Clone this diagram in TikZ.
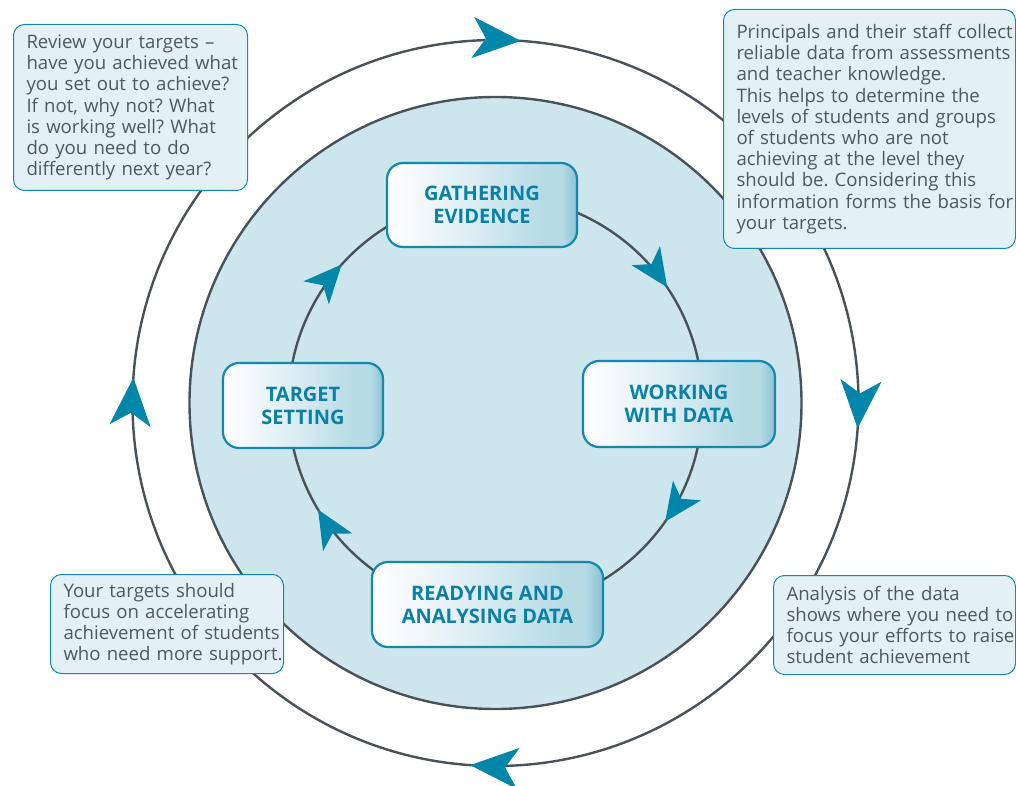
\documentclass[tikz,border=0pt]{standalone}
\usepackage{fontspec}
\setmainfont{Open Sans}
\frenchspacing
\usetikzlibrary{arrows.meta,decorations.markings}
\definecolor{ringgray}{HTML}{4A5259}
\definecolor{discfill}{HTML}{CDE5EC}
\definecolor{calloutfill}{HTML}{E3F1F6}
\definecolor{tealline}{HTML}{1489AD}
\definecolor{tealarrow}{HTML}{0086A8}
\definecolor{tealtext}{HTML}{0A80A5}
\definecolor{bodytext}{HTML}{4E5961}
\definecolor{shA}{HTML}{E0EFF4}
\definecolor{shB}{HTML}{B6DBE5}
\definecolor{shC}{HTML}{8AC2D2}
\pgfdeclarehorizontalshading{boxshade}{100bp}{color(0bp)=(white); color(25bp)=(white); color(45bp)=(shA); color(66bp)=(shB); color(71bp)=(shB); color(75bp)=(shC); color(100bp)=(shC)}
\newcommand{\oneln}[1]{\mbox{#1}}
\tikzset{
  ring/.style={draw=ringgray, line width=2.4pt},
  stage/.style={draw=tealline, line width=2.2pt, rounded corners=16pt, shading=boxshade,
    text=tealtext, font=\bfseries\fontsize{20}{23}\selectfont, align=center, inner sep=0pt},
  callout/.style={draw=tealline, line width=1pt, rounded corners=11pt, fill=calloutfill,
    text=bodytext, font=\fontsize{18.6}{21.2}\selectfont, align=left, inner xsep=13pt,
    inner ysep=0pt, anchor=north west},
  bigtip/.style={postaction={decorate, decoration={markings, mark=at position #1 with
    {\arrow[color=tealarrow]{Stealth[length=48pt,width=41pt,inset=13pt]}}}}},
  smalltip/.style={postaction={decorate, decoration={markings, mark=at position #1 with
    {\arrow[color=tealarrow]{Stealth[length=38pt,width=34pt,inset=10pt]}}}}}
}
\begin{document}
\begin{tikzpicture}[x=1pt,y=1pt]
\useasboundingbox (0,0) rectangle (1016,785);
\coordinate (C) at (495.5,382);
% outer cycle
\draw[ring, bigtip=0.0111, bigtip=0.2611, bigtip=0.5111, bigtip=0.7611]
  (C) ++(0,363) arc[start angle=90, end angle=-270, radius=363];
% disc
\draw[ring, fill=discfill] (C) circle[radius=306];
% inner cycle
\draw[ring, smalltip=0.1556, smalltip=0.3472, smalltip=0.6639, smalltip=0.8667]
  (C) ++(0,207) arc[start angle=90, end angle=-270, radius=207];
% stages
\node[stage, minimum width=190, minimum height=84] (gather) at (482,580) {GATHERING\\EVIDENCE};
\node[stage, minimum width=192, minimum height=86] (work) at (679,381) {WORKING\\WITH DATA};
\node[stage, minimum width=231, minimum height=85] (ready) at (487.5,180.5) {READYING AND\\ANALYSING DATA};
\node[stage, minimum width=160, minimum height=85] (target) at (303,379.5) {TARGET\\SETTING};
% callouts
\node[callout, minimum width=234, minimum height=166, text width=208] (review) at (13,761)
 {\oneln{Review your targets –}\\\oneln{have you achieved what}\\\oneln{you set out to achieve?}\\\oneln{If not, why not? What}\\\oneln{is working well? What}\\\oneln{do you need to do}\\\oneln{differently next year?}};
\node[callout, minimum width=292, minimum height=239, text width=266] (collect) at (723,776)
 {\oneln{Principals and their staff collect}\\\oneln{reliable data from assessments}\\\oneln{and teacher knowledge.}\\\oneln{This helps to determine the}\\\oneln{levels of students and groups}\\\oneln{of students who are not}\\\oneln{achieving at the level they}\\\oneln{should be. Considering this}\\\oneln{information forms the basis for}\\\oneln{your targets.}};
\node[callout, minimum width=233, minimum height=99, text width=207] (focus) at (50,211)
 {\oneln{Your targets should}\\\oneln{focus on accelerating}\\\oneln{achievement of students}\\\oneln{who need more support.}};
\node[callout, minimum width=242, minimum height=99, text width=216] (analysis) at (773,210)
 {\oneln{Analysis of the data}\\\oneln{shows where you need to}\\\oneln{focus your efforts to raise}\\\oneln{student achievement}};
\end{tikzpicture}
\end{document}
